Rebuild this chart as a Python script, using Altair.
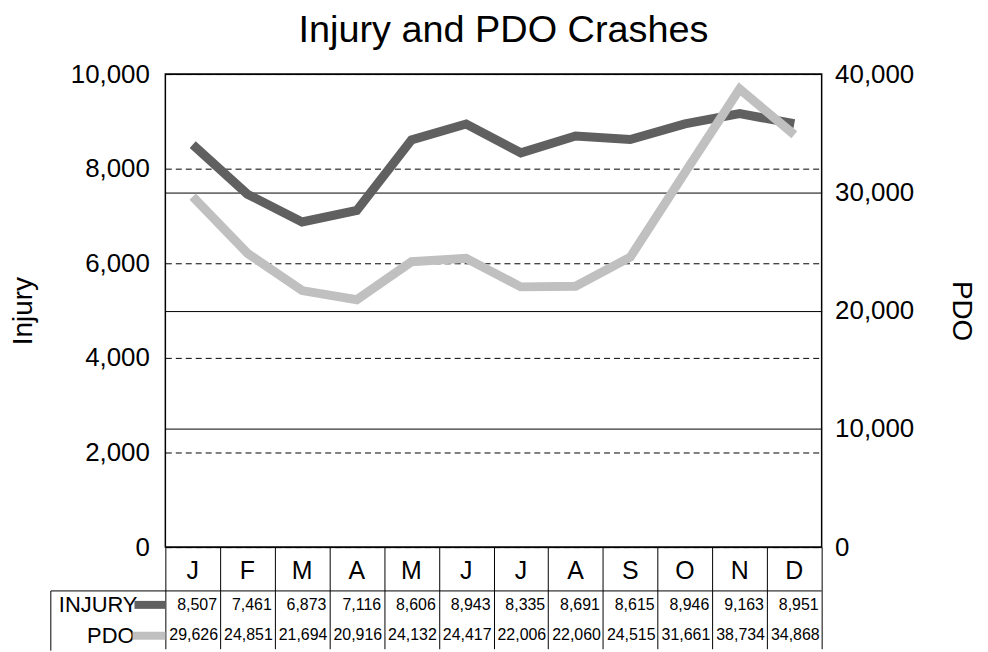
import altair as alt
import pandas as pd

months = ["J", "F", "M", "A", "M", "J", "J", "A", "S", "O", "N", "D"]
injury = [8507, 7461, 6873, 7116, 8606, 8943, 8335, 8691, 8615, 8946, 9163, 8951]
pdo = [29626, 24851, 21694, 20916, 24132, 24417, 22006, 22060, 24515, 31661, 38734, 34868]
row_labels = ["INJURY", "PDO"]

W, H = 659, 475
BW = W / 12
FONT = "Liberation Sans"
C_INJ = "#606060"
C_PDO = "#c0c0c0"

df = pd.DataFrame({
    "idx": list(range(12)),
    "letter": months,
    "injury": injury,
    "pdo": pdo,
})
df["injury_txt"] = [f"{v:,}" for v in injury]
df["pdo_txt"] = [f"{v:,}" for v in pdo]

xscale = alt.Scale(type="band", paddingInner=0, paddingOuter=0)
xenc = alt.X("idx:O", scale=xscale,
             axis=alt.Axis(labels=False, title=None, ticks=True, tickBand="extent",
                           tickSize=102, tickColor="black", tickWidth=1,
                           domain=False, grid=False))

base = alt.Chart(df)

inj_line = base.mark_line(color=C_INJ, strokeWidth=9, strokeCap="butt", strokeJoin="miter").encode(
    x=xenc,
    y=alt.Y("injury:Q", scale=alt.Scale(domain=[0, 10000], nice=False),
            axis=alt.Axis(orient="left", title="Injury", values=[0, 2000, 4000, 6000, 8000, 10000],
                          format=",d", ticks=False, domain=False, labelPadding=16,
                          labelFontSize=26, labelFont=FONT, labelColor="black",
                          titleFontSize=28, titleFont=FONT, titleFontWeight="normal",
                          titleColor="black", titlePadding=33,
                          grid=True, gridColor="black", gridDash=[6, 4], gridWidth=1,
                          gridOpacity=1)),
)

pdo_line = base.mark_line(color=C_PDO, strokeWidth=9, strokeCap="butt", strokeJoin="miter").encode(
    x=xenc,
    y=alt.Y("pdo:Q", scale=alt.Scale(domain=[0, 40000], nice=False),
            axis=alt.Axis(orient="right", title="PDO", values=[0, 10000, 20000, 30000, 40000],
                          format=",d", ticks=False, domain=False, labelPadding=13,
                          labelFontSize=26, labelFont=FONT, labelColor="black",
                          titleFontSize=28, titleFont=FONT, titleFontWeight="normal",
                          titleColor="black", titlePadding=33, titleAngle=90,
                          grid=True, gridColor="black", gridWidth=1, gridOpacity=1)),
)

lines = alt.layer(inj_line, pdo_line).resolve_scale(y="independent")

month_txt = base.mark_text(font=FONT, fontSize=25, baseline="middle", color="black").encode(
    x=xenc, y=alt.value(H + 24), text="letter:N")

inj_txt = base.mark_text(font=FONT, fontSize=16, baseline="middle", align="right",
                         dx=BW / 2 - 3, color="black").encode(
    x=xenc, y=alt.value(H + 58), text="injury_txt:N")

pdo_txt = base.mark_text(font=FONT, fontSize=16, baseline="middle", align="right",
                         dx=BW / 2 - 2, color="black").encode(
    x=xenc, y=alt.value(H + 88), text="pdo_txt:N")

inj_label = alt.Chart(pd.DataFrame({"label": [row_labels[0]]})).mark_text(
    font=FONT, fontSize=22, align="right", baseline="middle", color="black").encode(
    x=alt.value(-28), y=alt.value(H + 58), text="label:N")
pdo_label = alt.Chart(pd.DataFrame({"label": [row_labels[1]]})).mark_text(
    font=FONT, fontSize=22, align="right", baseline="middle", color="black").encode(
    x=alt.value(-31), y=alt.value(H + 89), text="label:N")

inj_sw = alt.Chart(pd.DataFrame({"label": [row_labels[0]]})).mark_rule(
    color=C_INJ, strokeWidth=8).encode(
    x=alt.value(-31), x2=alt.value(0), y=alt.value(H + 58))
pdo_sw = alt.Chart(pd.DataFrame({"label": [row_labels[1]]})).mark_rule(
    color=C_PDO, strokeWidth=8).encode(
    x=alt.value(-33), x2=alt.value(0), y=alt.value(H + 89))

table_top = alt.Chart(pd.DataFrame({"label": ["top"]})).mark_rule(
    color="black", strokeWidth=1).encode(
    x=alt.value(-115), x2=alt.value(W), y=alt.value(H + 44))
table_left = alt.Chart(pd.DataFrame({"label": ["left"]})).mark_rule(
    color="black", strokeWidth=1).encode(
    x=alt.value(-115), y=alt.value(H + 44), y2=alt.value(H + 104))

chart = alt.layer(
    lines, month_txt, inj_txt, pdo_txt, inj_label, pdo_label, inj_sw, pdo_sw,
    table_top, table_left
).resolve_scale(y="independent").properties(
    width=W, height=H,
    title=alt.Title("Injury and PDO Crashes", fontSize=38, font=FONT,
                    fontWeight="normal", color="black", anchor="middle",
                    offset=11, dx=10),
    padding={"left": 1, "top": 3, "right": 5, "bottom": 0},
).configure(background="white").configure_view(stroke="black", strokeWidth=1.5)

chart.save("out.html", embed_options={"renderer": "svg", "actions": False})
